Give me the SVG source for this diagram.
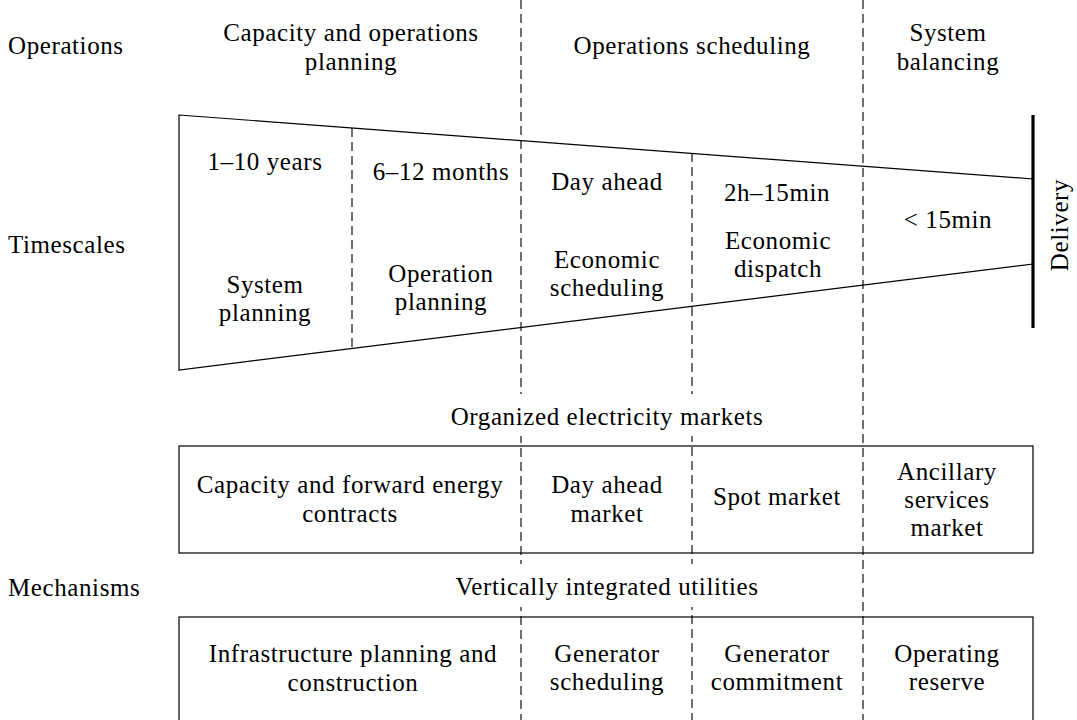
<svg xmlns="http://www.w3.org/2000/svg" width="1077" height="720" viewBox="0 0 1077 720">
<style>
text{font-family:"Liberation Serif","Times New Roman",serif;font-size:25px;letter-spacing:0.6px;fill:#000}
.c{text-anchor:middle}
.l{text-anchor:start}
.dash{stroke:#111;stroke-width:1.2;stroke-dasharray:9 5;fill:none}
.box{stroke:#000;stroke-width:1.2;fill:none}
.bg{fill:#fff;stroke:none}
</style>
<rect width="1077" height="720" fill="#fff"/>
<g id="connectors">
<line class="dash" x1="521" y1="0" x2="521" y2="720"/>
<line class="dash" x1="863" y1="0" x2="863" y2="720"/>
<line class="dash" x1="692" y1="153" x2="692" y2="720"/>
<line class="dash" x1="352" y1="128" x2="352" y2="348"/>
</g>
<g id="row-labels">
<text class="l" x="8" y="54">Operations</text>
<text class="l" x="8" y="253">Timescales</text>
<text class="l" x="8" y="596">Mechanisms</text>
</g>
<g id="operations-header">
<text class="c" x="351" y="41">Capacity and operations</text>
<text class="c" x="351" y="70">planning</text>
<text class="c" x="692" y="54">Operations scheduling</text>
<text class="c" x="948" y="41">System</text>
<text class="c" x="948" y="70">balancing</text>
</g>
<g id="timescales">
<polygon class="box" points="179,115 1033,179 1033,264 179,370"/>
<line x1="1033" y1="115" x2="1033" y2="328" stroke="#000" stroke-width="3.2"/>
<text class="c" transform="translate(1068,225) rotate(-90)" x="0" y="0">Delivery</text>
<text class="c" x="265" y="170">1–10 years</text>
<text class="c" x="265" y="293">System</text>
<text class="c" x="265" y="321">planning</text>
<text class="c" x="441" y="180">6–12 months</text>
<text class="c" x="441" y="282">Operation</text>
<text class="c" x="441" y="310">planning</text>
<text class="c" x="607" y="190">Day ahead</text>
<text class="c" x="607" y="268">Economic</text>
<text class="c" x="607" y="296">scheduling</text>
<text class="c" x="777" y="201">2h–15min</text>
<text class="c" x="778" y="249">Economic</text>
<text class="c" x="778" y="277">dispatch</text>
<text class="c" x="948" y="228">&lt; 15min</text>
</g>
<g id="markets">
<rect class="bg" x="430" y="394" width="354" height="42"/>
<text class="c" x="607" y="425">Organized electricity markets</text>
<rect class="box" x="179" y="446" width="854" height="107"/>
<text class="c" x="350" y="493">Capacity and forward energy</text>
<text class="c" x="350" y="522">contracts</text>
<text class="c" x="607" y="493">Day ahead</text>
<text class="c" x="607" y="522">market</text>
<text class="c" x="777" y="505">Spot market</text>
<text class="c" x="947" y="480">Ancillary</text>
<text class="c" x="947" y="508">services</text>
<text class="c" x="947" y="536">market</text>
</g>
<g id="utilities">
<rect class="bg" x="430" y="564" width="354" height="43"/>
<text class="c" x="607" y="595">Vertically integrated utilities</text>
<rect class="box" x="179" y="617" width="854" height="130"/>
<text class="c" x="353" y="662">Infrastructure planning and</text>
<text class="c" x="353" y="691">construction</text>
<text class="c" x="607" y="662">Generator</text>
<text class="c" x="607" y="690">scheduling</text>
<text class="c" x="777" y="662">Generator</text>
<text class="c" x="777" y="690">commitment</text>
<text class="c" x="947" y="662">Operating</text>
<text class="c" x="947" y="690">reserve</text>
</g>
</svg>
